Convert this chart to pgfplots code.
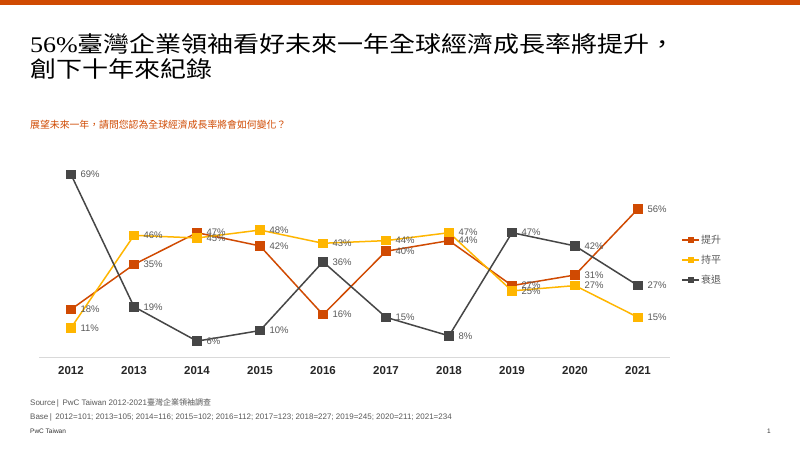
\documentclass[border=0pt]{standalone}
\usepackage{pgfplots}
\pgfplotsset{compat=1.18}
\usepackage{pgfplotstable}
\usepackage{fontspec}
\setmainfont{Liberation Sans}
\newfontfamily\cjk{Noto Sans CJK TC}
\newfontfamily\serif{Liberation Serif}
\definecolor{pwcorange}{HTML}{D04A02}
\definecolor{pwcyellow}{HTML}{FFB600}
\definecolor{pwcgray}{HTML}{464646}
\definecolor{labelgray}{HTML}{595959}

\pgfplotstableread{
x up flat down
0 18 11 69
1 35 46 19
2 47 45 6
3 42 48 10
4 16 43 36
5 40 44 15
6 44 47 8
7 27 25 47
8 31 27 42
9 56 15 27
}\data

\begin{document}
\begin{tikzpicture}
\path[fill=white, use as bounding box] (0,0) rectangle (800pt,-450pt);
\fill[pwcorange] (0,0) rectangle (800pt,-5pt);
\node[anchor=base west, inner sep=0pt] at (30pt,-52.5pt) {\scalebox{1}[0.86]{\fontsize{26}{26}\selectfont{\serif 56\%}{\cjk 臺灣企業領袖看好未來一年全球經濟成長率將提升，}}};
\node[anchor=base west, inner sep=0pt] at (30pt,-77pt) {\scalebox{1}[0.86]{\fontsize{26}{26}\selectfont\cjk 創下十年來紀錄}};
\node[anchor=base west, inner sep=0pt, text=pwcorange] at (30pt,-128.8pt) {\fontsize{9.85}{10}\selectfont\cjk 展望未來一年，請問您認為全球經濟成長率將會如何變化？};
\node[anchor=base west, inner sep=0pt, text=labelgray] at (30pt,-405.5pt) {\fontsize{8}{8}\selectfont Source\,|\, PwC Taiwan 2012-2021{\cjk 臺灣企業領袖調查}};
\node[anchor=base west, inner sep=0pt, text=labelgray] at (30pt,-419pt) {\fontsize{8}{8}\selectfont Base\,|\, 2012=101; 2013=105; 2014=116; 2015=102; 2016=112; 2017=123; 2018=227; 2019=245; 2020=211; 2021=234};
\node[anchor=base west, inner sep=0pt, text=black!80] at (30pt,-433.5pt) {\fontsize{6.5}{7}\selectfont PwC Taiwan};
\node[anchor=base east, inner sep=0pt, text=black!80] at (771pt,-433.5pt) {\fontsize{6.5}{7}\selectfont 1};
\begin{axis}[
  at={(39.5pt,-357pt)}, anchor=south west,
  scale only axis, width=630pt, height=211.6pt,
  xmin=-0.5, xmax=9.5, ymin=0, ymax=80,
  axis x line*=bottom, axis y line=none,
  axis line style={-, draw=black!15, line width=0.8pt},
  xtick={0,1,2,3,4,5,6,7,8,9},
  xticklabels={2012,2013,2014,2015,2016,2017,2018,2019,2020,2021},
  major tick length=0pt,
  xticklabel style={font=\fontsize{11.5}{12}\selectfont\bfseries, text=black!85, yshift=-6pt},
  clip=false,
  nodes near coords={\pgfmathprintnumber[assume math mode=true]{\pgfplotspointmeta}\%},
  nodes near coords align=horizontal,
  every node near coord/.append style={font=\fontsize{9.5}{10}\selectfont, text=labelgray, anchor=west, xshift=5.5pt},
  legend style={at={(1,0.458)}, anchor=west, xshift=12pt, draw=none, fill=none, inner sep=0pt,
    font=\cjk\fontsize{10}{10}\selectfont, text=labelgray, row sep=8pt,
    nodes={inner sep=1pt}},
  legend image code/.code={\draw[#1, mark size=2.4pt, mark repeat=2, mark phase=2] plot coordinates {(0pt,0pt) (8.5pt,0pt) (17pt,0pt)};},
]
\addplot[pwcorange, line width=1.5pt, mark=square*, mark size=4pt, mark options={solid, fill=pwcorange}] table[x=x,y=up]{\data};
\addlegendentry{提升}
\addplot[pwcyellow, line width=1.5pt, mark=square*, mark size=4pt, mark options={solid, fill=pwcyellow}] table[x=x,y=flat]{\data};
\addlegendentry{持平}
\addplot[pwcgray, line width=1.5pt, mark=square*, mark size=4pt, mark options={solid, fill=pwcgray}] table[x=x,y=down]{\data};
\addlegendentry{衰退}
\end{axis}
\end{tikzpicture}
\end{document}
